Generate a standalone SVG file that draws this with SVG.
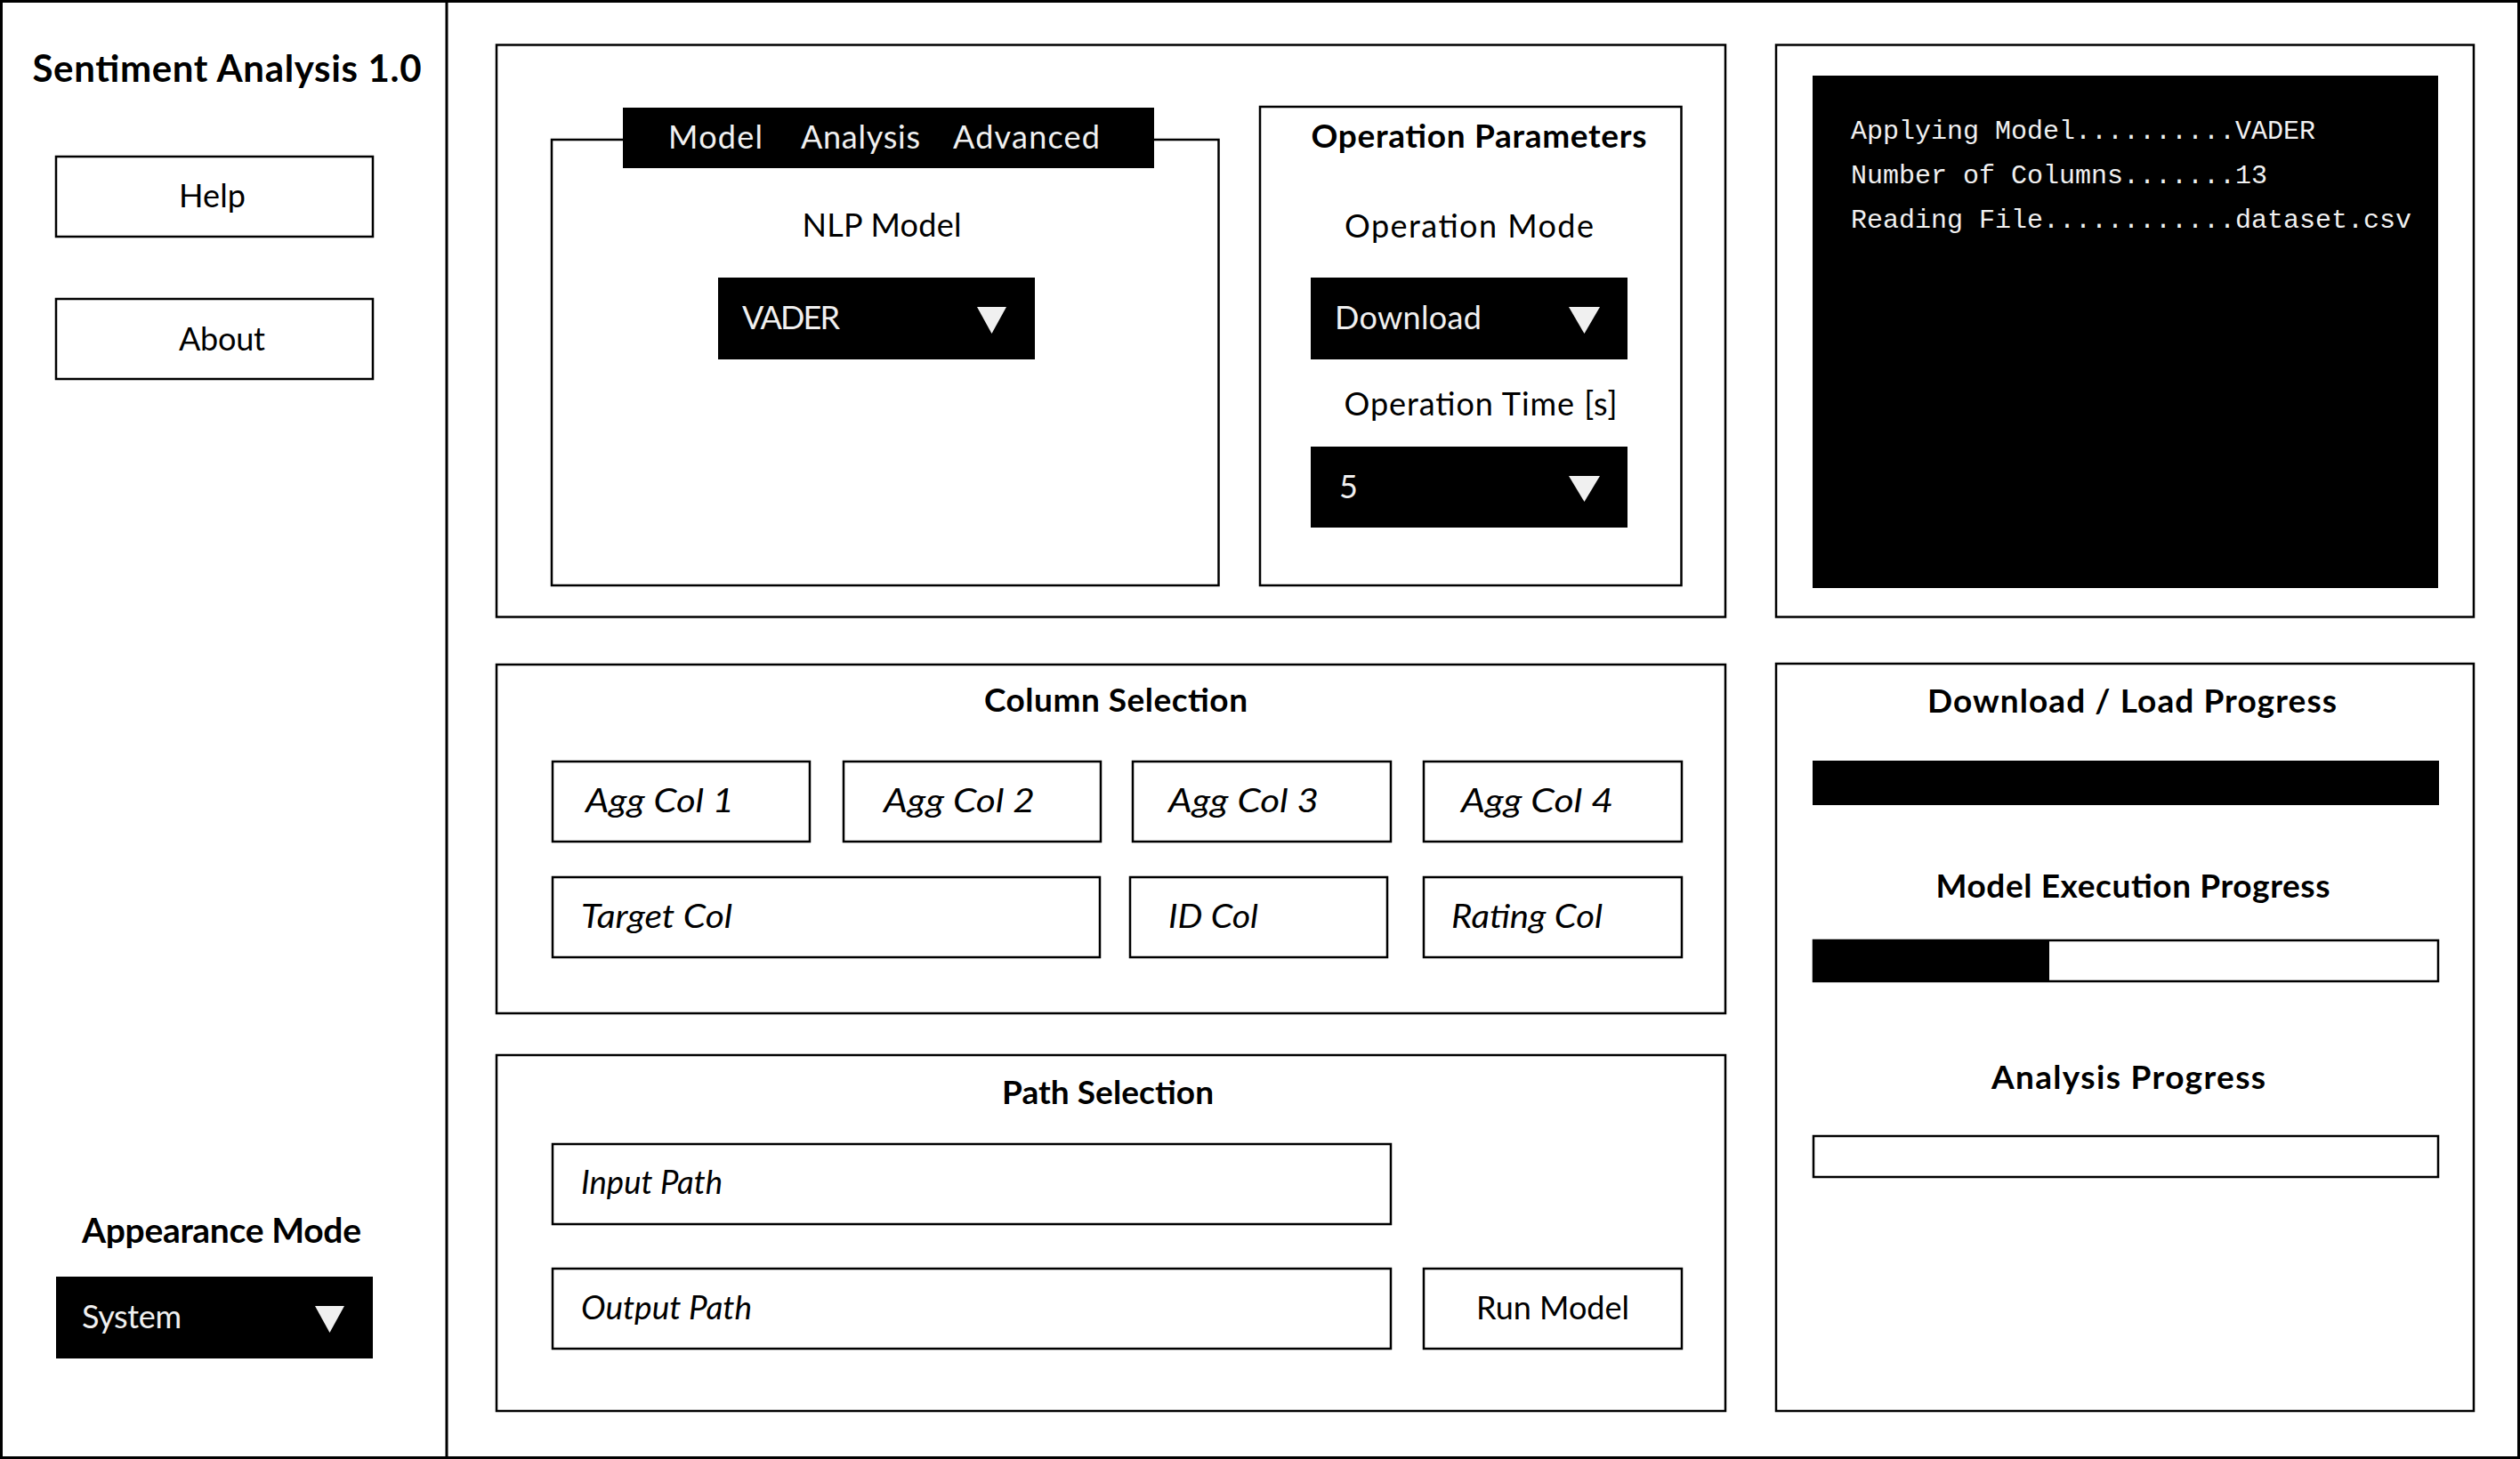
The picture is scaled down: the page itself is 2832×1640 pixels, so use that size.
<svg xmlns="http://www.w3.org/2000/svg" width="2832" height="1640" viewBox="0 0 2832 1640">
<style>
text{font-family:"Lato","Liberation Sans",sans-serif;fill:#000}
.b{font-weight:700}
.r{font-size:36px}
.h{font-size:37px;font-weight:700}
.i{font-size:37px;font-style:italic}
.w{fill:#f0f0f0}
.mono{font-family:"Liberation Mono","DejaVu Sans Mono",monospace;font-size:30px;fill:#f0f0f0}
.panel{fill:#fff;stroke:#000;stroke-width:2.5}
.btn{fill:#fff;stroke:#000;stroke-width:2.5}
.dark{fill:#000}
.tri{fill:#f0f0f0}
</style>
<rect width="2832" height="1640" fill="#fff"/>
<g id="frame">
<rect x="1.5" y="1.5" width="2829" height="1637" fill="none" stroke="#000" stroke-width="3"/>
<line x1="502" y1="0" x2="502" y2="1640" stroke="#000" stroke-width="3"/>
</g>
<g id="sidebar">
<text x="255" y="92" class="b" font-size="42" text-anchor="middle" textLength="437">Sentiment Analysis 1.0</text>
<g id="help"><rect class="btn" x="63" y="176" width="356" height="90"/><text class="r" x="201" y="233" textLength="75">Help</text></g>
<g id="about"><rect class="btn" x="63" y="336" width="356" height="90"/><text class="r" x="201" y="394" textLength="97">About</text></g>
<text x="249" y="1397" class="b" font-size="39" text-anchor="middle" textLength="314">Appearance Mode</text>
<g id="appearance-dropdown"><rect class="dark" x="63" y="1435" width="356" height="92"/><text class="r w" x="92" y="1493" textLength="112">System</text><polygon class="tri" points="354,1468 387,1468 370.5,1498"/></g>
</g>
<g id="model-panel">
<rect class="panel" x="558" y="50.5" width="1381" height="643"/>
<g id="tabview">
<rect class="btn" x="620" y="157" width="749.5" height="501"/>
<rect class="dark" x="700" y="121" width="597" height="68"/>
<text class="r w" x="751" y="167" textLength="106">Model</text>
<text class="r w" x="900" y="167" textLength="134">Analysis</text>
<text class="r w" x="1071" y="167" textLength="165">Advanced</text>
<text class="r" x="991" y="266" text-anchor="middle" textLength="179">NLP Model</text>
<g id="nlp-dropdown"><rect class="dark" x="807" y="312" width="356" height="92"/><text class="r w" x="834" y="370" textLength="110">VADER</text><polygon class="tri" points="1098,345 1131,345 1114.5,375"/></g>
</g>
<g id="operation-parameters">
<rect class="btn" x="1416" y="120" width="473.5" height="538"/>
<text class="h" x="1662" y="166" text-anchor="middle" textLength="377">Operation Parameters</text>
<text class="r" x="1651" y="267" text-anchor="middle" textLength="280">Operation Mode</text>
<g id="mode-dropdown"><rect class="dark" x="1473" y="312" width="356" height="92"/><text class="r w" x="1500" y="370" textLength="165">Download</text><polygon class="tri" points="1763,345 1798,345 1780.5,375"/></g>
<text class="r" x="1664" y="467" text-anchor="middle" textLength="307">Operation Time [s]</text>
<g id="time-dropdown"><rect class="dark" x="1473" y="502" width="356" height="91"/><text class="r w" x="1505" y="560">5</text><polygon class="tri" points="1763,535 1798,535 1780.5,564"/></g>
</g>
</g>
<g id="console-panel">
<rect class="panel" x="1996" y="50.5" width="784" height="643"/>
<rect class="dark" x="2037" y="85" width="703" height="576"/>
<text class="mono" x="2080" y="156">Applying Model..........VADER</text>
<text class="mono" x="2080" y="206">Number of Columns.......13</text>
<text class="mono" x="2080" y="256">Reading File............dataset.csv</text>
</g>
<g id="column-selection">
<rect class="panel" x="558" y="747" width="1381" height="392"/>
<text class="h" x="1254" y="800" text-anchor="middle" textLength="296">Column Selection</text>
<g id="agg1"><rect class="btn" x="621" y="856" width="289" height="90"/><text class="i" x="658" y="913" textLength="167" lengthAdjust="spacingAndGlyphs">Agg Col 1</text></g>
<g id="agg2"><rect class="btn" x="948" y="856" width="289" height="90"/><text class="i" x="993" y="913" textLength="170" lengthAdjust="spacingAndGlyphs">Agg Col 2</text></g>
<g id="agg3"><rect class="btn" x="1273" y="856" width="290" height="90"/><text class="i" x="1313" y="913" textLength="169" lengthAdjust="spacingAndGlyphs">Agg Col 3</text></g>
<g id="agg4"><rect class="btn" x="1600" y="856" width="290" height="90"/><text class="i" x="1642" y="913" textLength="171" lengthAdjust="spacingAndGlyphs">Agg Col 4</text></g>
<g id="target"><rect class="btn" x="621" y="986" width="615" height="90"/><text class="i" x="653" y="1043" textLength="170" lengthAdjust="spacingAndGlyphs">Target Col</text></g>
<g id="idcol"><rect class="btn" x="1270" y="986" width="289" height="90"/><text class="i" x="1313" y="1043" textLength="101" lengthAdjust="spacingAndGlyphs">ID Col</text></g>
<g id="rating"><rect class="btn" x="1600" y="986" width="290" height="90"/><text class="i" x="1631" y="1043" textLength="170" lengthAdjust="spacingAndGlyphs">Rating Col</text></g>
</g>
<g id="path-selection">
<rect class="panel" x="558" y="1186" width="1381" height="400"/>
<text class="h" x="1245" y="1241" text-anchor="middle" textLength="238">Path Selection</text>
<g id="input-path"><rect class="btn" x="621" y="1286" width="942" height="90"/><text class="i" x="653" y="1342" textLength="159" lengthAdjust="spacingAndGlyphs">Input Path</text></g>
<g id="output-path"><rect class="btn" x="621" y="1426" width="942" height="90"/><text class="i" x="653" y="1483" textLength="192" lengthAdjust="spacingAndGlyphs">Output Path</text></g>
<g id="run-model"><rect class="btn" x="1600" y="1426" width="290" height="90"/><text class="r" x="1745" y="1483" text-anchor="middle" textLength="172">Run Model</text></g>
</g>
<g id="progress-panel">
<rect class="panel" x="1996" y="746" width="784" height="840"/>
<text class="h" x="2396" y="801" text-anchor="middle" textLength="460">Download / Load Progress</text>
<rect class="dark" x="2037" y="855" width="704" height="50"/>
<text class="h" x="2397" y="1009" text-anchor="middle" textLength="443">Model Execution Progress</text>
<rect x="2038" y="1057" width="702" height="46" fill="#fff" stroke="#000" stroke-width="2.5"/>
<rect class="dark" x="2037" y="1056" width="266" height="48"/>
<text class="h" x="2392" y="1224" text-anchor="middle" textLength="308">Analysis Progress</text>
<rect x="2038" y="1277" width="702" height="46" fill="#fff" stroke="#000" stroke-width="2.5"/>
</g>
</svg>
